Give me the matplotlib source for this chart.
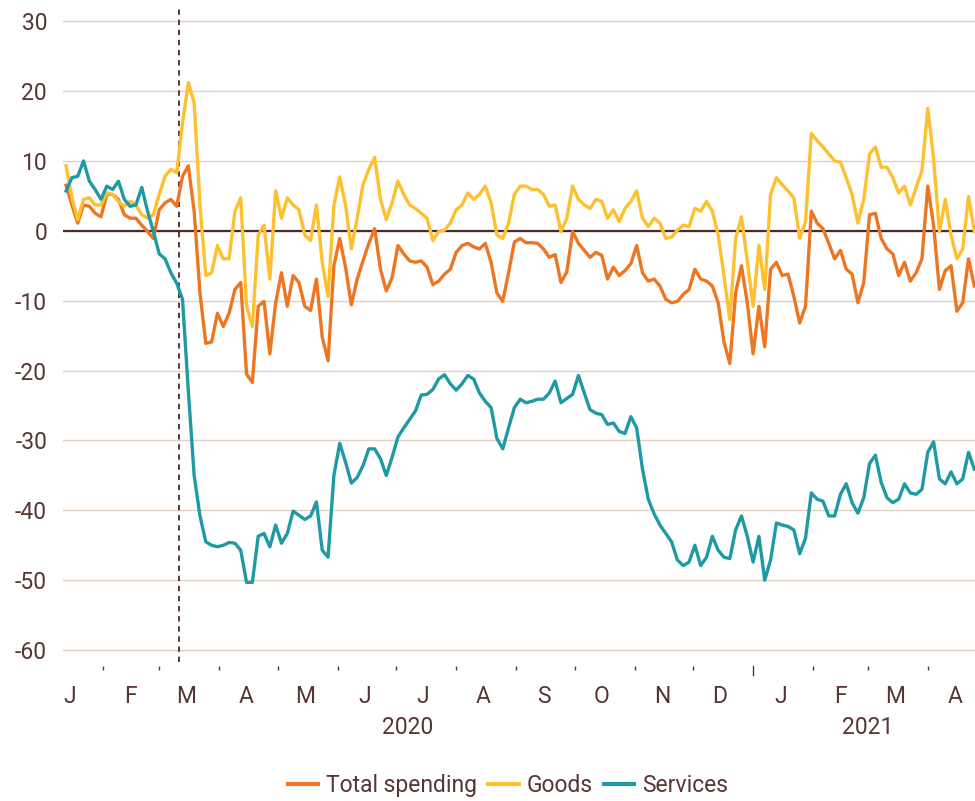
import matplotlib
matplotlib.use("Agg")
import matplotlib.pyplot as plt
import matplotlib.dates as mdates
import matplotlib.transforms as mtransforms
import pandas as pd

# card spending vs. same period last year, %, sampled every 3 days from 13 Jan 2020
start = "2020-01-13"
total = [6.5, 3.7, 1.1, 3.7, 3.5, 2.5, 2.0, 5.2, 5.2, 4.5,
         2.3, 1.8, 1.8, 0.8, -0.1, -1.1, 3.0, 4.0, 4.5, 3.5,
         7.8, 9.3, 2.8, -8.9, -16.1, -15.9, -11.8, -13.7, -11.8, -8.4,
         -7.4, -20.5, -21.7, -10.8, -10.1, -17.6, -10.3, -6.0, -10.8, -6.4,
         -7.4, -10.8, -11.4, -6.9, -15.2, -18.6, -5.0, -1.1, -5.2, -10.6,
         -6.9, -4.3, -1.8, 0.3, -5.5, -8.6, -6.7, -2.1, -3.3, -4.3,
         -4.5, -4.3, -5.2, -7.7, -7.2, -6.2, -5.5, -3.1, -2.1, -1.8,
         -2.3, -2.6, -1.8, -4.5, -8.9, -10.1, -6.0, -1.6, -1.1,
         -1.7, -1.7, -1.8, -2.6, -3.8, -3.4, -7.4, -5.9, -0.1, -1.8,
         -2.8, -3.8, -3.1, -3.5, -6.9, -5.2, -6.4, -5.7, -4.7, -2.1,
         -6.0, -7.2, -6.9, -7.9, -9.8, -10.3, -10.1, -9.1, -8.4, -5.5,
         -6.9, -7.2, -7.9, -10.3, -15.9, -19.0, -8.9, -5.0, -10.3, -17.6,
         -10.8, -16.6, -5.5, -4.5, -6.4, -6.2, -9.4, -13.2, -10.8, 2.8,
         1.1, 0.3, -1.8, -4.0, -2.8, -5.5, -6.2, -10.3, -7.4, 2.3,
         2.5, -1.1, -2.6, -3.3, -6.4, -4.5, -7.2, -6.0, -4.0, 6.4,
         0.8, -8.4, -5.7, -5.0, -11.5, -10.3, -4.0, -7.9]
goods = [9.3, 4.7, 1.6, 4.5, 4.7, 3.7, 3.7, 5.4, 5.2, 4.2,
         3.5, 4.2, 3.7, 2.3, 1.8, 2.3, 5.2, 7.8, 8.8, 8.3,
         15.4, 21.2, 18.3, 3.7, -6.4, -6.0, -2.1, -4.0, -4.0, 2.8,
         4.7, -10.8, -13.7, -0.6, 0.8, -6.9, 5.7, 1.8, 4.7, 3.7,
         3.0, -0.6, -1.4, 3.7, -4.5, -9.4, 3.7, 7.7, 3.7, -2.6,
         1.8, 6.6, 8.8, 10.5, 4.5, 1.6, 4.0, 7.1, 5.2, 3.7,
         3.2, 2.5, 1.8, -1.4, -0.1, 0.1, 1.1, 3.0, 3.7, 5.4,
         4.5, 5.2, 6.4, 4.0, -0.6, -1.1, 1.1, 5.2, 6.4,
         6.4, 5.9, 5.9, 5.2, 3.5, 3.7, -0.1, 1.8, 6.4, 4.5,
         3.7, 3.2, 4.5, 4.2, 1.8, 3.0, 1.3, 3.2, 4.2, 5.7,
         1.8, 0.6, 1.8, 1.1, -1.1, -0.9, 0.1, 0.8, 0.6, 3.2,
         2.8, 4.2, 2.8, -0.6, -6.4, -12.7, -1.1, 2.0, -4.3, -10.8,
         -2.1, -8.4, 5.2, 7.6, 6.6, 5.7, 4.7, -1.1, 1.3, 13.9,
         12.9, 12.0, 11.0, 10.0, 9.8, 7.6, 5.2, 1.1, 4.5, 11.0,
         12.0, 9.1, 9.1, 7.6, 5.4, 6.4, 3.7, 6.2, 8.6, 17.5,
         10.3, -0.1, 4.5, -0.6, -4.0, -2.6, 4.9, -0.1]
services = [5.7, 7.6, 7.8, 10.0, 7.1, 5.9, 4.5, 6.4, 5.9, 7.1,
            4.5, 3.5, 3.7, 6.2, 2.8, -0.1, -3.3, -4.0, -6.0, -7.5,
            -9.8, -22.9, -35.0, -40.8, -44.5, -45.0, -45.2, -45.0, -44.6, -44.7,
            -45.7, -50.3, -50.3, -43.7, -43.3, -45.2, -42.1, -44.7, -43.3, -40.1,
            -40.7, -41.3, -40.8, -38.8, -45.7, -46.7, -35.0, -30.4, -33.1, -36.1,
            -35.3, -33.6, -31.2, -31.2, -32.6, -35.0, -32.4, -29.5, -28.2, -27.0,
            -25.8, -23.5, -23.4, -22.7, -21.2, -20.6, -21.9, -22.8, -21.9, -20.7,
            -21.2, -23.2, -24.4, -25.3, -29.7, -31.2, -28.2, -25.3, -24.1,
            -24.6, -24.4, -24.1, -24.1, -23.2, -21.5, -24.6, -24.0, -23.4, -20.7,
            -23.2, -25.6, -26.1, -26.3, -27.7, -27.5, -28.7, -29.0, -26.6, -28.2,
            -34.1, -38.4, -40.5, -42.1, -43.3, -44.5, -47.1, -47.9, -47.4, -45.0,
            -47.9, -46.7, -43.7, -45.7, -46.7, -46.9, -42.8, -40.8, -43.7, -47.4,
            -43.7, -50.0, -47.1, -41.8, -42.1, -42.3, -42.8, -46.2, -44.0, -37.5,
            -38.4, -38.7, -40.8, -40.8, -37.7, -36.2, -38.9, -40.4, -38.2, -33.3,
            -32.1, -36.0, -38.2, -38.9, -38.4, -36.2, -37.5, -37.7, -37.0, -31.7,
            -30.2, -35.5, -36.2, -34.5, -36.2, -35.5, -31.7, -34.1]

series_names = ["Total spending", "Goods", "Services"]
month_letters = ["J", "F", "M", "A", "M", "J", "J", "A", "S", "O", "N", "D",
                 "J", "F", "M", "A"]
year_labels = {"2020": "2020-07-07", "2021": "2021-03-01"}
lockdown_date = "2020-03-11"

dates = pd.date_range(start, periods=len(total), freq="3D")

TXT = "#573535"
DARK = "#4a2a2a"
GRID = "#e0d0c3"
colors = ["#ee7623", "#fdc02f", "#1f9aa5"]

plt.rcParams["font.family"] = ["Roboto", "DejaVu Sans"]
plt.rcParams["axes.unicode_minus"] = False

fig = plt.figure(figsize=(9.75, 8.01), dpi=100)
ax = fig.add_axes([0.0646, 0.1735, 0.9354, 0.8202])

for vals, name, c in zip([total, goods, services], series_names, colors):
    ax.plot(dates, vals, color=c, lw=2.4, label=name, zorder=3,
            solid_joinstyle="round")

ax.set_yticks(range(-60, 31, 10))
ax.set_yticklabels([str(v) for v in range(-60, 31, 10)])
ax.yaxis.grid(True, color=GRID, lw=1.0)
ax.set_axisbelow(True)
ax.axhline(0, color=DARK, lw=1.6, zorder=2)
ax.axvline(pd.Timestamp(lockdown_date), color=DARK, lw=1.3,
           ls=(0, (3.0, 2.6)), zorder=2)

# month letters at mid-month, small ticks at month boundaries
mid = pd.date_range("2020-01-01", periods=len(month_letters), freq="MS") + pd.Timedelta(days=14)
ax.set_xticks(mid)
ax.set_xticklabels(month_letters)
bounds = [d for d in pd.date_range("2020-02-01", "2021-04-01", freq="MS")
          if d != pd.Timestamp("2021-01-01")]
ax.set_xticks(bounds, minor=True)
ax.tick_params(axis="x", which="major", length=0, pad=13.5, labelsize=16.5,
               labelcolor=TXT)
ax.tick_params(axis="x", which="minor", length=3, width=1, color=TXT)
ax.tick_params(axis="y", length=0, pad=11.5, labelsize=16.5, labelcolor=TXT)
ax.spines["bottom"].set_position(("outward", 3))
for s in ax.spines.values():
    s.set_visible(False)

ax.set_ylim(-61.7, 32.3)
ax.set_xlim(pd.Timestamp("2020-01-11 10:00"), pd.Timestamp("2021-04-25 08:00"))

trans = mtransforms.blended_transform_factory(ax.transData, ax.transAxes)
yr = mdates.date2num(pd.Timestamp("2021-01-01"))
ax.plot([yr, yr], [-0.0061, -0.020], transform=trans, color=TXT, lw=1,
        clip_on=False)
for lab, d in year_labels.items():
    ax.text(pd.Timestamp(d), -0.100, lab, transform=trans, ha="center",
            va="center", fontsize=16.5, color=TXT)
ax.set_xlim(pd.Timestamp("2020-01-11 10:00"), pd.Timestamp("2021-04-25 08:00"))

leg = fig.legend(loc="center", bbox_to_anchor=(0.521, 0.019), ncol=3,
                 frameon=False, fontsize=16.5, handlelength=1.33,
                 handletextpad=0.35, columnspacing=0.47)
for h in leg.get_lines():
    h.set_linewidth(3)
for t in leg.get_texts():
    t.set_color(TXT)

fig.savefig("out.png", dpi=100)
